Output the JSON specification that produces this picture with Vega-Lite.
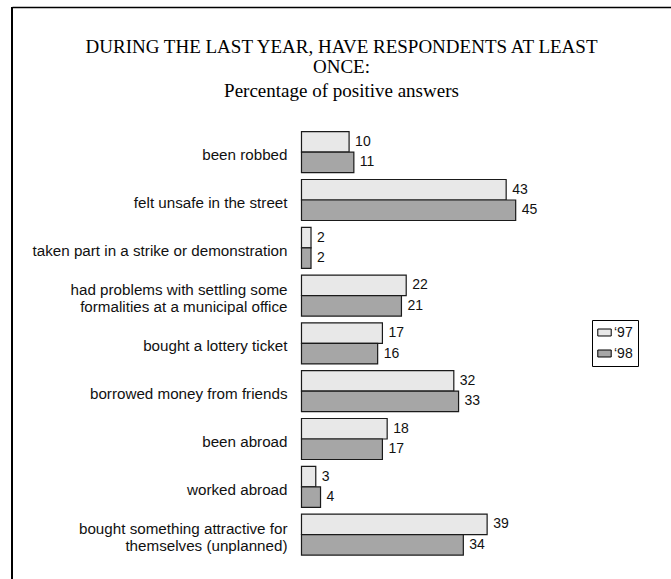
{
  "$schema": "https://vega.github.io/schema/vega-lite/v6.json",
  "width": 659,
  "height": 572,
  "autosize": {"type": "none"},
  "padding": {"left": 12, "top": 7, "right": 0, "bottom": 0},
  "background": "white",
  "config": {
    "view": {"stroke": null},
    "font": "Liberation Sans"
  },
  "title": {
    "text": ["DURING THE LAST YEAR, HAVE RESPONDENTS AT LEAST", "ONCE:"],
    "subtitle": "Percentage of positive answers",
    "font": "Liberation Serif",
    "fontSize": 19,
    "fontWeight": "normal",
    "color": "black",
    "lineHeight": 20,
    "subtitleFont": "Liberation Serif",
    "subtitleFontSize": 19,
    "subtitleColor": "black",
    "subtitlePadding": 5,
    "anchor": "middle",
    "frame": "group",
    "offset": -95
  },
  "data": {
    "values": [
      {"activity": "been robbed", "year": "‘97", "value": 10},
      {"activity": "been robbed", "year": "‘98", "value": 11},
      {"activity": "felt unsafe in the street", "year": "‘97", "value": 43},
      {"activity": "felt unsafe in the street", "year": "‘98", "value": 45},
      {"activity": "taken part in a strike or demonstration", "year": "‘97", "value": 2},
      {"activity": "taken part in a strike or demonstration", "year": "‘98", "value": 2},
      {"activity": "had problems with settling some|formalities at a municipal office", "year": "‘97", "value": 22},
      {"activity": "had problems with settling some|formalities at a municipal office", "year": "‘98", "value": 21},
      {"activity": "bought a lottery ticket", "year": "‘97", "value": 17},
      {"activity": "bought a lottery ticket", "year": "‘98", "value": 16},
      {"activity": "borrowed money from friends", "year": "‘97", "value": 32},
      {"activity": "borrowed money from friends", "year": "‘98", "value": 33},
      {"activity": "been abroad", "year": "‘97", "value": 18},
      {"activity": "been abroad", "year": "‘98", "value": 17},
      {"activity": "worked abroad", "year": "‘97", "value": 3},
      {"activity": "worked abroad", "year": "‘98", "value": 4},
      {"activity": "bought something attractive for|themselves (unplanned)", "year": "‘97", "value": 39},
      {"activity": "bought something attractive for|themselves (unplanned)", "year": "‘98", "value": 34}
    ]
  },
  "layer": [
    {
      "mark": {"type": "rule", "color": "black", "strokeWidth": 1.5},
      "encoding": {
        "x": {
          "datum": -60.82,
          "type": "quantitative",
          "scale": {"domain": [-60.82, 77.63], "nice": false, "zero": false},
          "axis": {
            "orient": "top",
            "title": null,
            "domain": true,
            "domainColor": "black",
            "domainWidth": 1.5,
            "ticks": false,
            "labels": false,
            "grid": false
          }
        }
      }
    },
    {
      "mark": {"type": "bar", "stroke": "#1a1a1a", "strokeWidth": 1.2},
      "encoding": {
        "y": {
          "field": "activity",
          "type": "nominal",
          "sort": null,
          "scale": {"range": [124.7, 548.1], "paddingInner": 0.142, "paddingOuter": 0},
          "axis": {
            "orient": "left",
            "title": null,
            "domain": false,
            "ticks": false,
            "grid": false,
            "labelPadding": -275,
            "labelLimit": 0,
            "labelFont": "Liberation Sans",
            "labelFontSize": 15.2,
            "labelColor": "#111",
            "labelLineHeight": 17,
            "labelOffset": {"condition": {"test": "indexof(datum.value, '|') >= 0", "value": -6}, "value": 3},
            "labelExpr": "split(datum.label, '|')"
          }
        },
        "yOffset": {"field": "year", "type": "nominal", "scale": {"paddingInner": 0, "paddingOuter": 0}},
        "x": {"field": "value", "type": "quantitative"},
        "x2": {"datum": 0},
        "color": {
          "field": "year",
          "type": "nominal",
          "scale": {"domain": ["‘97", "‘98"], "range": ["#e8e8e8", "#a6a6a6"]},
          "legend": {
            "title": null,
            "orient": "none",
            "legendX": 580,
            "legendY": 313,
            "strokeColor": "black",
            "padding": 5,
            "rowPadding": 6,
            "symbolType": "M-1,-0.52H1V0.52H-1Z",
            "symbolSize": 180,
            "symbolStrokeColor": "black",
            "symbolStrokeWidth": 1,
            "symbolOpacity": 1,
            "labelOffset": 2,
            "labelFont": "Liberation Sans",
            "labelFontSize": 14,
            "labelColor": "#111"
          }
        }
      }
    },
    {
      "mark": {"type": "text", "align": "left", "baseline": "middle", "dx": 6, "font": "Liberation Sans", "fontSize": 14, "color": "#111"},
      "encoding": {
        "y": {"field": "activity", "type": "nominal", "sort": null},
        "yOffset": {"field": "year", "type": "nominal"},
        "x": {"field": "value", "type": "quantitative"},
        "text": {"field": "value", "type": "quantitative"}
      }
    }
  ]
}
